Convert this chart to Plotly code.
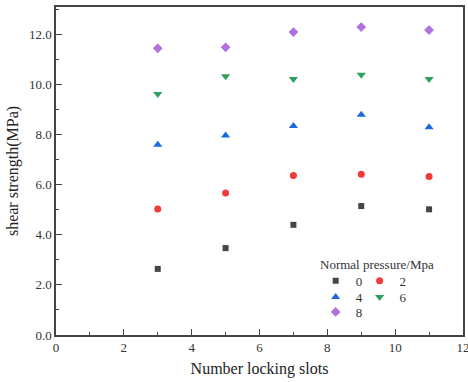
import plotly.graph_objects as go

slots = [3, 5, 7, 9, 11]
p0 = [2.64, 3.47, 4.40, 5.15, 5.02]
p2 = [5.03, 5.67, 6.37, 6.42, 6.33]
p4 = [7.60, 7.97, 8.35, 8.80, 8.30]
p6 = [9.63, 10.33, 10.22, 10.39, 10.22]
p8 = [11.45, 11.49, 12.10, 12.30, 12.18]

# name, values, symbol, colour, size, legend id, legend x, legend y (paper)
series = [
    ("0", p0, "square", "#454545", 6, "legend", 0.638, 0.165),
    ("2", p2, "circle", "#f03a3a", 7, "legend2", 0.746, 0.165),
    ("4", p4, "triangle-up", "#1a6be0", 8, "legend3", 0.638, 0.116),
    ("6", p6, "triangle-down", "#2ea05a", 8, "legend4", 0.746, 0.116),
    ("8", p8, "diamond", "#b070e0", 7.5, "legend5", 0.638, 0.070),
]

font = "Liberation Serif, Times New Roman, serif"
fig = go.Figure()
legends = {}
for name, vals, sym, col, sz, lg, lx, ly in series:
    fig.add_trace(go.Scatter(
        x=slots, y=vals, mode="markers", name=name, legend=lg,
        marker=dict(symbol=sym, color=col, size=sz, line=dict(width=0)),
    ))
    legends[lg] = dict(
        x=lx, y=ly, xanchor="left", yanchor="middle",
        bgcolor="rgba(0,0,0,0)", font=dict(family=font, size=13, color="#333"),
        itemwidth=30,
    )

axis_common = dict(
    showline=True, linecolor="#444", linewidth=1.5, mirror=True,
    ticks="inside", ticklen=6, tickwidth=1.2, tickcolor="#444",
    showgrid=False, zeroline=False, automargin=False,
    ticklabeloverflow="allow",
    tickfont=dict(family=font, size=13, color="#333"),
    minor=dict(ticks="inside", ticklen=3.5, tickwidth=1.2, tickcolor="#444", dtick=1),
)

fig.update_xaxes(range=[0, 12], dtick=2, tick0=0,
                 title=dict(text="Number locking slots", font=dict(family=font, size=16, color="#222"), standoff=8),
                 **axis_common)
fig.update_yaxes(range=[0, 13.1], dtick=2, tick0=0, tickformat=".1f",
                 title=dict(text="shear strength(MPa)", font=dict(family=font, size=16, color="#222"), standoff=6),
                 **axis_common)

fig.update_layout(
    width=468, height=382,
    margin=dict(l=56, r=5, t=7, b=47),
    paper_bgcolor="white", plot_bgcolor="white",
    showlegend=True,
    annotations=[dict(
        text="Normal pressure/Mpa", xref="paper", yref="paper",
        x=0.788, y=0.214, xanchor="center", yanchor="middle", showarrow=False,
        font=dict(family=font, size=13, color="#333"),
    )],
    **legends,
)

fig.write_html("out.html", config={"displayModeBar": False},
               post_script="document.body.style.margin='0';document.body.style.padding='0';")
